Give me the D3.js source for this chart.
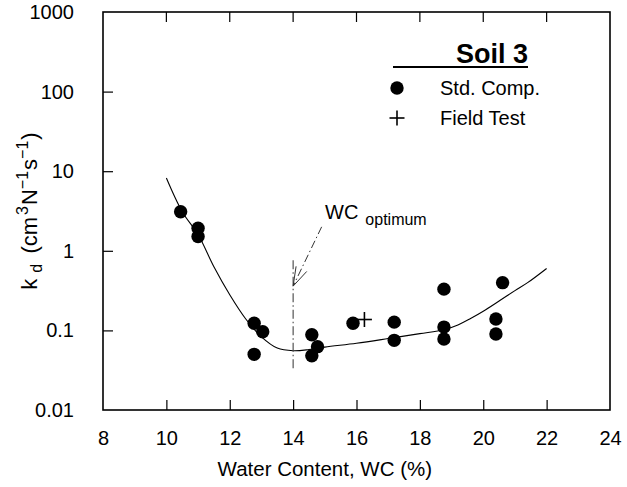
<!DOCTYPE html>
<html>
<head>
<meta charset="utf-8">
<script src="https://cdn.jsdelivr.net/npm/d3@7/dist/d3.min.js"></script>
<style>
  html, body { margin: 0; padding: 0; background: #fff; }
  text { font-family: "Liberation Sans", Arial, Helvetica, sans-serif; fill: #000; }
</style>
</head>
<body>
<svg id="chart" width="627" height="487"></svg>
<script>
// Standard compaction measurements: water content (%) and k_d
const stdWC = [10.45, 11.0, 11.0, 12.77, 13.04, 12.77, 14.59, 14.77, 14.59, 15.89, 17.19, 17.19, 18.76, 18.76, 18.76, 20.4, 20.4, 20.61];
const stdKd = [3.1, 1.92, 1.51, 0.123, 0.096, 0.05, 0.088, 0.0625, 0.048, 0.123, 0.127, 0.075, 0.33, 0.11, 0.078, 0.139, 0.09, 0.398];

// Field test measurement
const fieldWC = [16.25];
const fieldKd = [0.137];

// Fitted trend curve
const curveWC = [10.0, 10.5, 11.0, 11.5, 12.0, 12.5, 13.0, 13.5, 14.0, 14.5, 15.0, 16.0, 17.0, 18.0, 18.76, 19.2, 19.6, 20.0, 20.5, 21.0, 21.4, 22.0];
const curveKd = [8.2, 3.1, 1.6, 0.63, 0.28, 0.14, 0.083, 0.06, 0.0556, 0.0575, 0.0617, 0.069, 0.079, 0.091, 0.102, 0.117, 0.141, 0.174, 0.234, 0.316, 0.398, 0.6];

// Optimum water content marker
const optimumWC = 14.0;

// Axis ticks
const xTicks = [8, 10, 12, 14, 16, 18, 20, 22, 24];
const yTicks = [0.01, 0.1, 1, 10, 100, 1000];
const yTickLabels = ["0.01", "0.1", "1", "10", "100", "1000"];

const svg = d3.select("#chart");
const W = 627, H = 487;
const m = { left: 103, right: 17, top: 12, bottom: 77 };
const pw = W - m.left - m.right, ph = H - m.top - m.bottom;

const x = d3.scaleLinear().domain([8, 24]).range([m.left, m.left + pw]);
const y = d3.scaleLog().domain([0.01, 1000]).range([m.top + ph, m.top]);

// Axes with inward ticks
const xAxis = d3.axisBottom(x).tickValues(xTicks).tickSizeInner(-10).tickSizeOuter(0).tickPadding(21).tickFormat(d3.format("d"));
const yAxis = d3.axisLeft(y).tickValues(yTicks).tickSizeInner(-10).tickSizeOuter(0).tickPadding(29)
  .tickFormat((d, i) => yTickLabels[i]);

const gx = svg.append("g").attr("transform", `translate(0,${m.top + ph})`).call(xAxis);
const gy = svg.append("g").attr("transform", `translate(${m.left},0)`).call(yAxis);
[gx, gy].forEach(g => {
  g.select(".domain").remove();
  g.selectAll(".tick line").attr("stroke", "#000").attr("stroke-width", 1.2);
  g.selectAll(".tick text").attr("font-size", 20).attr("fill", "#000");
});
gx.selectAll(".tick").filter(d => d === 8 || d === 24).select("line").remove();
gy.selectAll(".tick").filter(d => d === 0.01 || d === 1000).select("line").remove();

// Mirrored ticks on top edge
svg.append("g").selectAll("line").data(xTicks.slice(1, -1)).join("line")
  .attr("x1", d => x(d)).attr("x2", d => x(d))
  .attr("y1", m.top).attr("y2", m.top + 10)
  .attr("stroke", "#000").attr("stroke-width", 1.2);

// Plot frame
svg.append("rect")
  .attr("x", m.left).attr("y", m.top).attr("width", pw).attr("height", ph)
  .attr("fill", "none").attr("stroke", "#000").attr("stroke-width", 1.6);

// Axis titles
svg.append("text")
  .attr("x", x(15)).attr("y", 476)
  .attr("text-anchor", "middle").attr("font-size", 20.5)
  .text("Water Content, WC (%)");

const yt = svg.append("text")
  .attr("transform", `translate(37,${m.top + ph / 2}) rotate(-90)`)
  .attr("text-anchor", "middle").attr("font-size", 22);
yt.append("tspan").text("k");
yt.append("tspan").attr("font-size", 16).attr("dx", 6).attr("dy", 5).text("d");
yt.append("tspan").attr("dx", 4).attr("dy", -5).text(" (cm");
yt.append("tspan").attr("font-size", 16).attr("dx", 2).attr("dy", -9).text("3");
yt.append("tspan").attr("dx", 1).attr("dy", 9).text("N");
yt.append("tspan").attr("font-size", 16).attr("dy", -9).text("\u22121");
yt.append("tspan").attr("dx", 1).attr("dy", 9).text("s");
yt.append("tspan").attr("font-size", 16).attr("dy", -9).text("\u22121");
yt.append("tspan").attr("dx", 1).attr("dy", 9).text(")");

// Trend curve
const line = d3.line()
  .x(d => x(d[0])).y(d => y(d[1]))
  .curve(d3.curveCatmullRom.alpha(0.5));
svg.append("path")
  .datum(curveWC.map((w, i) => [w, curveKd[i]]))
  .attr("d", line)
  .attr("fill", "none").attr("stroke", "#000").attr("stroke-width", 1.1);

// Vertical dash-dot marker at optimum water content
svg.append("line")
  .attr("x1", x(optimumWC)).attr("x2", x(optimumWC))
  .attr("y1", y(0.76)).attr("y2", y(0.033))
  .attr("stroke", "#444").attr("stroke-width", 1.1)
  .attr("stroke-dasharray", "9,3,1.5,3");

// Arrow from the label to the marker
const tipX = x(optimumWC), tipY = y(0.36);
const tailX = x(14.9), tailY = y(2.0);
svg.append("line")
  .attr("x1", tailX).attr("y1", tailY).attr("x2", tipX).attr("y2", tipY)
  .attr("stroke", "#333").attr("stroke-width", 1)
  .attr("stroke-dasharray", "8,3,1.5,3");
const ang = Math.atan2(tailY - tipY, tailX - tipX);
[-0.3, 0.3].forEach(da => {
  svg.append("line")
    .attr("x1", tipX).attr("y1", tipY)
    .attr("x2", tipX + 20 * Math.cos(ang + da)).attr("y2", tipY + 20 * Math.sin(ang + da))
    .attr("stroke", "#333").attr("stroke-width", 1);
});

const lab = svg.append("text").attr("x", 325).attr("y", 219).attr("font-size", 20);
lab.append("tspan").text("WC");
lab.append("tspan").attr("font-size", 16).attr("dx", 7).attr("dy", 6).text("optimum");

// Std. Comp. points
svg.append("g").selectAll("circle")
  .data(stdWC.map((w, i) => [w, stdKd[i]]))
  .join("circle")
  .attr("cx", d => x(d[0])).attr("cy", d => y(d[1])).attr("r", 6.7)
  .attr("fill", "#000");

// Field Test point
const plus = (g, cx, cy, s) => {
  g.append("line").attr("x1", cx - s).attr("x2", cx + s).attr("y1", cy).attr("y2", cy)
    .attr("stroke", "#000").attr("stroke-width", 1.6);
  g.append("line").attr("x1", cx).attr("x2", cx).attr("y1", cy - s).attr("y2", cy + s)
    .attr("stroke", "#000").attr("stroke-width", 1.6);
};
const gf = svg.append("g");
fieldWC.forEach((w, i) => plus(gf, x(w), y(fieldKd[i]), 7.5));

// Legend
const leg = svg.append("g");
leg.append("text").attr("x", 528).attr("y", 63).attr("text-anchor", "end")
  .attr("font-size", 27).attr("font-weight", "bold").text("Soil 3");
leg.append("line").attr("x1", 393).attr("x2", 528).attr("y1", 67).attr("y2", 67)
  .attr("stroke", "#000").attr("stroke-width", 2);
leg.append("circle").attr("cx", 397).attr("cy", 88).attr("r", 6.7).attr("fill", "#000");
leg.append("text").attr("x", 440).attr("y", 95).attr("font-size", 20).text("Std. Comp.");
plus(leg, 397, 118, 7.5);
leg.append("text").attr("x", 440).attr("y", 125).attr("font-size", 20).text("Field Test");
</script>
</body>
</html>
